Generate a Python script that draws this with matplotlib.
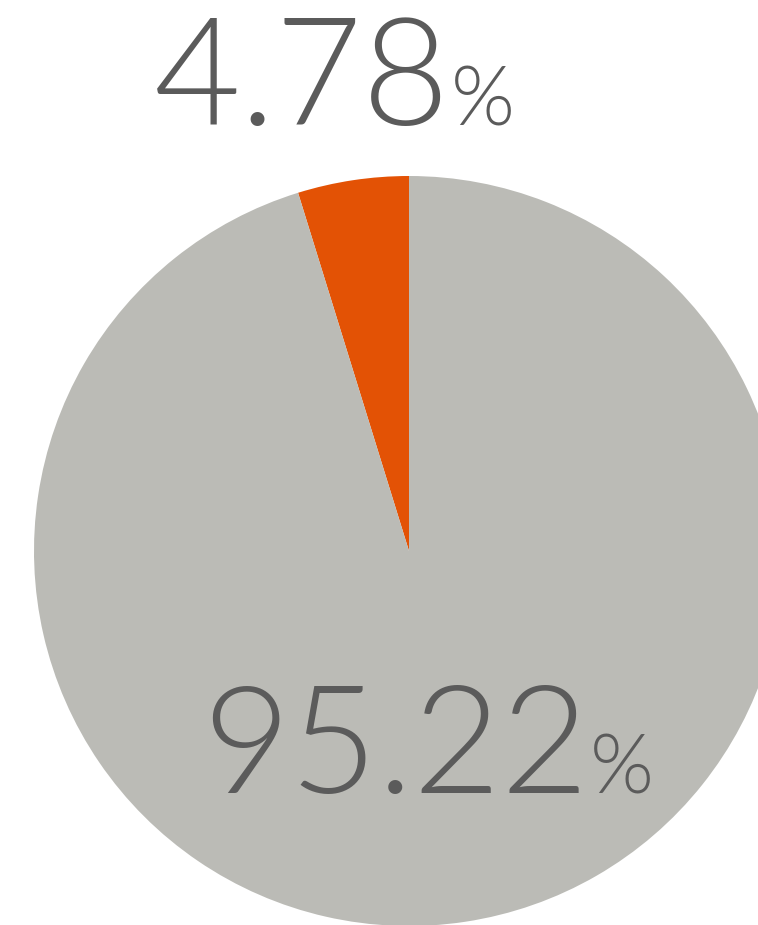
import matplotlib
matplotlib.use("Agg")
import matplotlib.pyplot as plt

# share of the two groups, in percent
labels = ["Group A", "Group B"]
shares = [4.78, 95.22]
colors = ["#E35205", "#BBBBB6"]

W, H = 758, 925
fig = plt.figure(figsize=(W / 100, H / 100), dpi=100)
ax = fig.add_axes([0, 0, 1, 1])

ax.pie(shares, colors=colors, startangle=90, counterclock=True,
       center=(409, H - 551), radius=375,
       wedgeprops=dict(linewidth=0))

ax.set_xlim(0, W)
ax.set_ylim(0, H)
ax.set_aspect("equal")
ax.axis("off")

txt_color = "#5B5B5B"
font = dict(family="Lato", weight=300, color=txt_color)

# label for the small slice, above the pie
ax.text(450, H - 125, f"{shares[0]:.2f}", ha="right", va="baseline", fontsize=108, **font)
ax.text(451, H - 125, "%", ha="left", va="baseline", fontsize=59, **font)

# label for the big slice, inside the pie
ax.text(589, H - 793, f"{shares[1]:.2f}", ha="right", va="baseline", fontsize=109, **font)
ax.text(590, H - 793, "%", ha="left", va="baseline", fontsize=59, **font)

fig.savefig("out.png", dpi=100)
